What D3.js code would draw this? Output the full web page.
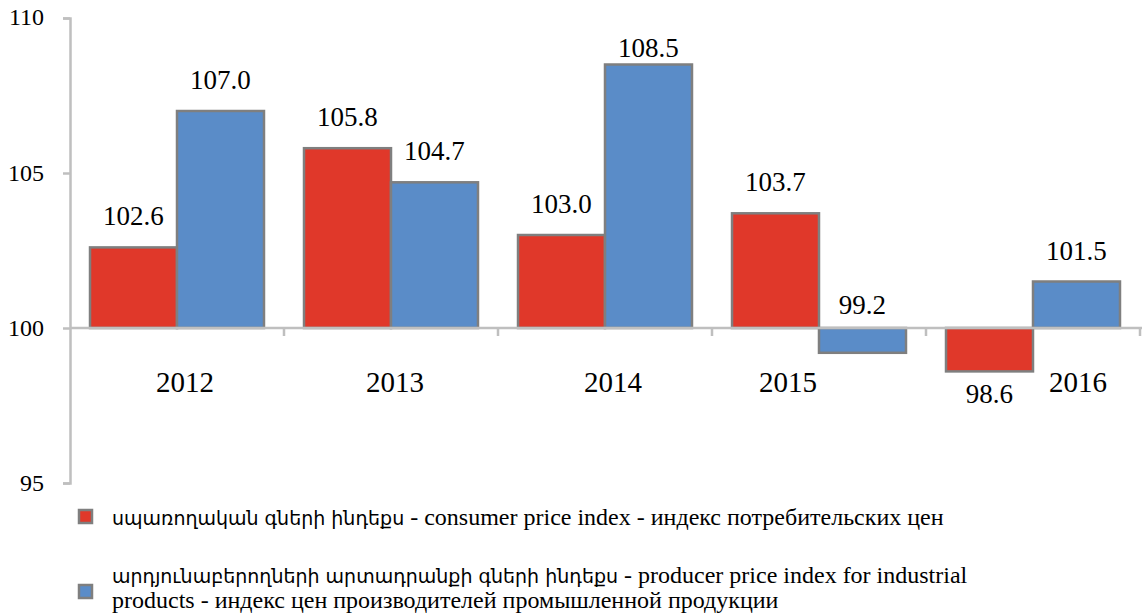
<!DOCTYPE html>
<html>
<head>
<meta charset="utf-8">
<script src="https://cdn.jsdelivr.net/npm/d3@7"></script>
<style>
  body { margin: 0; background: #fff; }
</style>
</head>
<body>
<div id="chart"></div>
<script>
// data
var years = ["2012", "2013", "2014", "2015", "2016"];
var cpi = [102.6, 105.8, 103.0, 103.7, 98.6];
var ppi = [107.0, 104.7, 108.5, 99.2, 101.5];
var yTicks = [95, 100, 105, 110];
var cpiName = "սպառողական գների ինդեքս - consumer price index - индекс потребительских цен";
var ppiName = ["արդյունաբերողների արտադրանքի գների ինդեքս - producer price index for industrial",
               "products - индекс цен производителей промышленной продукции"];

var width = 1142, height = 616;
var base = 100;
var red = "#E0382A", blue = "#5A8CC8", edge = "#7F7F7F", axisCol = "#BFBFBF";
var serif = "'Liberation Serif'";
var armFont = "'DejaVu Sans'";

// year labels are not centered in the original, nudge them a bit
var yearNudge = [8, 4, 8, -31, 45];

var svg = d3.select("#chart")
  .append("svg")
    .attr("width", width)
    .attr("height", height);

var y = d3.scaleLinear()
  .domain([95, 110])
  .range([483, 18]);

var x0 = d3.scaleBand()
  .domain(years)
  .range([70, 1140])
  .paddingInner(0.187)
  .paddingOuter(0.0935);

var x1 = d3.scaleBand()
  .domain(["cpi", "ppi"])
  .range([0, x0.bandwidth()]);

var rows = years.map(function(yr, i) {
  return {year: yr, i: i, vals: [{key: "cpi", v: cpi[i]}, {key: "ppi", v: ppi[i]}]};
});

// Y axis
var yAxis = svg.append("g")
  .attr("transform", "translate(70,0)")
  .call(d3.axisLeft(y).tickValues(yTicks).tickSize(7).tickPadding(19).tickFormat(d3.format("d")));
yAxis.select(".domain").attr("stroke", axisCol).attr("stroke-width", 2.5);
yAxis.selectAll(".tick line").attr("stroke", axisCol).attr("stroke-width", 2.5);
yAxis.selectAll(".tick text")
  .style("font-family", serif)
  .style("font-size", "24px")
  .attr("fill", "#000")
  .attr("dy", function(d) { return d == 110 ? "0.26em" : "0.32em"; });

// bars
var groups = svg.append("g")
  .selectAll("g")
  .data(rows)
  .enter()
  .append("g")
    .attr("transform", function(d) { return "translate(" + x0(d.year) + ",0)"; });

groups.selectAll("rect")
  .data(function(d) { return d.vals; })
  .enter()
  .append("rect")
    .attr("x", function(d) { return x1(d.key); })
    .attr("width", x1.bandwidth())
    .attr("y", function(d) { return Math.min(y(d.v), y(base)); })
    .attr("height", function(d) { return Math.abs(y(d.v) - y(base)); })
    .attr("fill", function(d) { return d.key == "cpi" ? red : blue; })
    .attr("stroke", edge)
    .attr("stroke-width", 2.5);

// X axis at 100 with ticks between the groups
var step = x0.step();
var bounds = d3.range(years.length + 1).map(function(i) { return 70 + i * step; });
svg.append("line")
  .attr("x1", 70).attr("x2", 1142)
  .attr("y1", y(base)).attr("y2", y(base))
  .attr("stroke", axisCol).attr("stroke-width", 2.5);
svg.append("g")
  .selectAll("line")
  .data(bounds.slice(1))
  .enter()
  .append("line")
    .attr("x1", function(d) { return d; })
    .attr("x2", function(d) { return d; })
    .attr("y1", y(base))
    .attr("y2", y(base) + 8)
    .attr("stroke", axisCol)
    .attr("stroke-width", 2.5);

// year labels
svg.append("g")
  .selectAll("text")
  .data(rows)
  .enter()
  .append("text")
    .attr("x", function(d) { return x0(d.year) + x0.bandwidth() / 2 + yearNudge[d.i]; })
    .attr("y", 392)
    .attr("text-anchor", "middle")
    .style("font-family", serif)
    .style("font-size", "29px")
    .text(function(d) { return d.year; });

// value labels
function labelY(v) {
  if (v >= base) return Math.max(y(v) - 22, 57);
  if (base - v < 1) return y(base) - 14;   // short bar: put it above the axis
  return y(v) + 32;
}
groups.selectAll("text")
  .data(function(d) { return d.vals; })
  .enter()
  .append("text")
    .attr("x", function(d) { return x1(d.key) + x1.bandwidth() / 2; })
    .attr("y", function(d) { return labelY(d.v); })
    .attr("text-anchor", "middle")
    .style("font-family", serif)
    .style("font-size", "27px")
    .text(function(d) { return d3.format(".1f")(d.v); });

// legend: armenian part is set in a smaller font, the rest in serif
function legendLine(sel, str) {
  var k = str.indexOf(" - ");
  var hasArm = /[\u0530-\u058F]/.test(str.slice(0, k));
  if (hasArm) {
    sel.append("tspan")
      .style("font-family", armFont)
      .style("font-size", "19px")
      .text(str.slice(0, k));
    sel.append("tspan").text(str.slice(k));
  } else {
    sel.append("tspan").text(str);
  }
}

var legend = svg.append("g")
  .style("font-family", serif)
  .style("font-size", "24px");

legend.append("rect")
  .attr("x", 79).attr("y", 510).attr("width", 13).attr("height", 13)
  .attr("fill", red).attr("stroke", edge).attr("stroke-width", 2.5);
legendLine(legend.append("text").attr("x", 112).attr("y", 525), cpiName);

legend.append("rect")
  .attr("x", 79).attr("y", 585).attr("width", 13).attr("height", 13)
  .attr("fill", blue).attr("stroke", edge).attr("stroke-width", 2.5);
ppiName.forEach(function(line, i) {
  legendLine(legend.append("text").attr("x", 112).attr("y", 583 + i * 25), line);
});
</script>
</body>
</html>
